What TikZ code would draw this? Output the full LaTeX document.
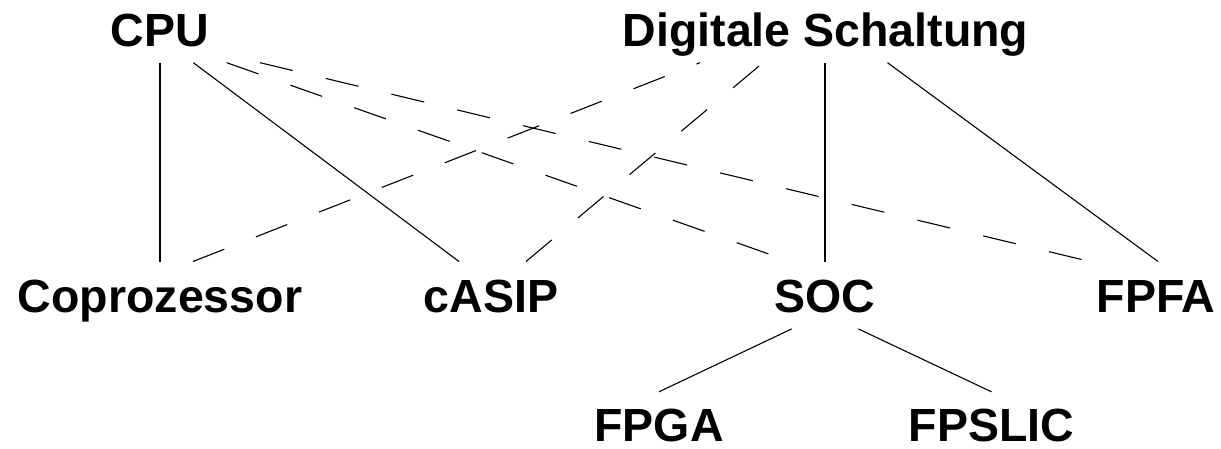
\documentclass[tikz,border=0pt]{standalone}
\usepackage{fontspec}
\setmainfont{Liberation Sans}
\usetikzlibrary{calc}
\begin{document}
\begin{tikzpicture}[x=1pt,y=-1pt,
  label/.style={anchor=base,inner sep=0pt,text height=51pt,text depth=16pt,
    font=\fontsize{46.5}{50}\selectfont\bfseries},
  leaf/.style={label,text height=49pt,text depth=0pt},
  link/.style={line width=1.1pt},
  dlink/.style={line width=1.1pt,dash pattern=on 33.6pt off 34pt}]
\useasboundingbox (0,0) rectangle (1221,449);

% top row
\node[label] (cpu) at (160,46.5) {CPU};
\node[label] (ds)  at (825.5,46.5) {Digitale Schaltung};
% middle row
\node[label] (cop)   at (160,312.7) {Coprozessor};
\node[label] (casip) at (491,312.7) {cASIP};
\node[label] (soc)   at (825,312.7) {SOC};
\node[label] (fpfa)  at (1156,312.7) {FPFA};
% bottom row
\node[leaf] (fpga)   at (659,441) {FPGA};
\node[leaf] (fpslic) at (991.5,441) {FPSLIC};

% solid connections
\draw[link] (cpu.south) -- (cop.north);
\draw[link] ($(cpu.south)+(33.3,0)$) -- ($(casip.north)+(-32,0)$);
\draw[link] (ds.south -| soc.north) -- (soc.north);
\draw[link] ($(ds.south)+(62,0)$) -- ($(fpfa.north)+(2,0)$);
\draw[link] ($(soc.south)+(-33.3,0)$) -- (fpga.north);
\draw[link] ($(soc.south)+(33.3,0)$) -- (fpslic.north);

% dashed connections
\draw[dlink] ($(cpu.south)+(66.7,0)$) -- ($(soc.north)+(-35,0)$);
\draw[dlink] ($(cpu.south)+(100,0)$) -- ($(fpfa.north)+(-66,0)$);
\draw[dlink] ($(cop.north)+(33,0)$) -- ($(ds.south)+(-125.5,0)$);
\draw[dlink] ($(casip.north)+(35,0)$) -- ($(ds.south)+(-62.5,0)$);
\end{tikzpicture}
\end{document}
